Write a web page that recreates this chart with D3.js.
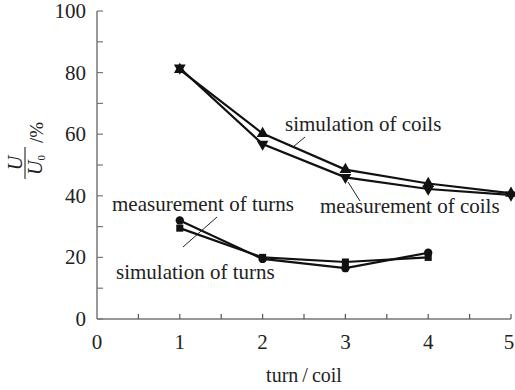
<!DOCTYPE html>
<html><head><meta charset="utf-8">
<script src="https://cdn.jsdelivr.net/npm/d3@7"></script>
<style>body{margin:0;background:#fff}svg{display:block}</style>
</head><body>
<script>
const turns = [1, 2, 3, 4, 5];
const simCoils = [81, 60.2, 48.5, 44, 40.8];
const measCoils = [81.5, 56.8, 46, 42.2, 40.3];
const measTurns = [32, 19.5, 16.5, 21.5];
const simTurns = [29.5, 20, 18.5, 20];
const xTicks = [0, 1, 2, 3, 4, 5];
const yTicks = [0, 20, 40, 60, 80, 100];

const FONT = '"Liberation Serif"';
const W = 515, H = 390;
const svg = d3.select("body").append("svg").attr("width", W).attr("height", H);
const x = d3.scaleLinear().domain([0, 5]).range([97, 511]);
const y = d3.scaleLinear().domain([0, 100]).range([319, 11]);
function txt(sel) { return sel.append("text").style("font-family", FONT).attr("fill", "#222"); }

// axes
svg.append("line").attr("x1", x(0)).attr("x2", x(5)).attr("y1", y(0)).attr("y2", y(0)).attr("stroke", "#333").attr("stroke-width", 1.2);
svg.append("line").attr("x1", x(0)).attr("x2", x(0)).attr("y1", y(0)).attr("y2", y(100)).attr("stroke", "#777").attr("stroke-width", 1.5);
d3.range(0, 101, 10).forEach(v => {
  svg.append("line").attr("x1", x(0)).attr("x2", x(0) + 6).attr("y1", y(v)).attr("y2", y(v)).attr("stroke", "#777").attr("stroke-width", 1.2);
});
d3.range(0.5, 5.01, 0.5).forEach(v => {
  svg.append("line").attr("x1", x(v)).attr("x2", x(v)).attr("y1", y(0)).attr("y2", y(0) - 5).attr("stroke", "#555").attr("stroke-width", 1.2);
});
yTicks.forEach(v => {
  txt(svg).attr("x", x(0) - 11).attr("y", y(v) + 7).attr("text-anchor", "end").attr("font-size", 21).text(v);
});
xTicks.forEach(v => {
  txt(svg).attr("x", x(v) - (v === 5 ? 2 : 0)).attr("y", 349).attr("text-anchor", "middle").attr("font-size", 21).text(v);
});
txt(svg).attr("x", 304).attr("y", 382).attr("text-anchor", "middle").attr("font-size", 20).text("turn\u2009/\u2009coil");

// y label
const yl = svg.append("g").attr("transform", "translate(25,163) rotate(-90)");
txt(yl).attr("x", 0).attr("y", -3).attr("text-anchor", "middle").attr("font-size", 20).attr("font-style", "italic").text("U");
yl.append("line").attr("x1", -16).attr("x2", 16).attr("y1", 0).attr("y2", 0).attr("stroke", "#444").attr("stroke-width", 1.3);
const den = txt(yl).attr("x", -2).attr("y", 17).attr("text-anchor", "middle").attr("font-size", 20).attr("font-style", "italic");
den.append("tspan").text("U");
den.append("tspan").attr("font-size", 11).attr("font-style", "normal").attr("dy", 3).text("0");
txt(yl).attr("x", 20).attr("y", 18).attr("font-size", 19).text("/%");

// series
const line = d3.line().x((d, i) => x(turns[i])).y(d => y(d));
const series = [
  {v: simCoils, m: "up"},
  {v: measCoils, m: "down"},
  {v: measTurns, m: "circle"},
  {v: simTurns, m: "square"}
];
series.forEach(s => {
  svg.append("path").attr("d", line(s.v)).attr("fill", "none").attr("stroke", "#111").attr("stroke-width", 2.2);
  s.v.forEach((d, i) => {
    const cx = x(turns[i]), cy = y(d);
    let sym;
    if (s.m === "circle") sym = d3.symbol().type(d3.symbolCircle).size(55);
    else if (s.m === "square") sym = d3.symbol().type(d3.symbolSquare).size(50);
    else sym = d3.symbol().type(d3.symbolTriangle).size(60);
    svg.append("path").attr("d", sym()).attr("fill", "#111")
      .attr("transform", `translate(${cx},${cy})` + (s.m === "down" ? " rotate(180)" : ""));
  });
});

// annotations
const ann = [
  {t: "simulation of coils", x: 285, y: 131, l: [293, 147, 305, 137]},
  {t: "measurement of coils", x: 320, y: 213, l: [360, 201, 348, 182]},
  {t: "measurement of turns", x: 112, y: 211, l: [217, 217, 183, 247]},
  {t: "simulation of turns", x: 116, y: 279, l: null}
];
ann.forEach(a => {
  txt(svg).attr("x", a.x).attr("y", a.y).attr("font-size", 21).text(a.t);
  if (a.l) svg.append("line").attr("x1", a.l[0]).attr("y1", a.l[1]).attr("x2", a.l[2]).attr("y2", a.l[3]).attr("stroke", "#222").attr("stroke-width", 1);
});
</script>
</body></html>
